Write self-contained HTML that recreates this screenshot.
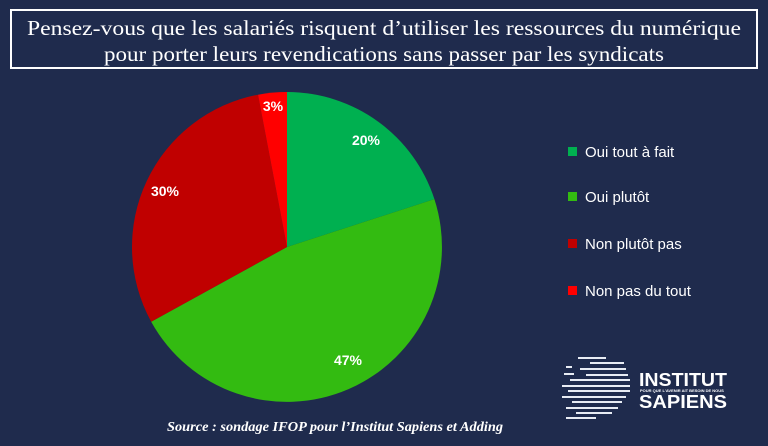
<!DOCTYPE html>
<html><head><meta charset="utf-8"><style>
html,body{margin:0;padding:0;background:#1f2b4d;}
</style></head><body>
<svg width="768" height="441" viewBox="0 0 768 441" xmlns="http://www.w3.org/2000/svg">
<rect width="768" height="441" fill="#1f2b4d"/>
<rect x="11" y="10" width="746" height="58" fill="none" stroke="#fff" stroke-width="2"/>
<g font-family="Liberation Serif, serif" font-size="21" fill="#fff" text-anchor="middle">
<text x="384" y="35" textLength="714" lengthAdjust="spacingAndGlyphs">Pensez-vous que les salariés risquent d’utiliser les ressources du numérique</text>
<text x="384" y="61" textLength="560" lengthAdjust="spacingAndGlyphs">pour porter leurs revendications sans passer par les syndicats</text>
</g>
<path d="M287,247 L287,92 A155,155 0 0 1 434.4,199.1 Z" fill="#00b050"/>
<path d="M287,247 L434.4,199.1 A155,155 0 0 1 151.2,321.7 Z" fill="#33bb11"/>
<path d="M287,247 L151.2,321.7 A155,155 0 0 1 258,94.7 Z" fill="#c00000"/>
<path d="M287,247 L258,94.7 A155,155 0 0 1 287,92 Z" fill="#ff0000"/>
<g font-family="Liberation Sans, sans-serif" font-size="14" font-weight="bold" fill="#fff" text-anchor="middle">
<text x="366" y="145">20%</text>
<text x="348" y="365">47%</text>
<text x="165" y="196">30%</text>
<text x="273" y="111">3%</text>
</g>
<g font-family="Liberation Sans, sans-serif" font-size="15" fill="#fff">
<rect x="568" y="147" width="9" height="9" fill="#00b050"/><text x="585" y="157">Oui tout à fait</text>
<rect x="568" y="192" width="9" height="9" fill="#33bb11"/><text x="585" y="202">Oui plutôt</text>
<rect x="568" y="239" width="9" height="9" fill="#c00000"/><text x="585" y="249">Non plutôt pas</text>
<rect x="568" y="286" width="9" height="9" fill="#ff0000"/><text x="585" y="296">Non pas du tout</text>
</g>
<g fill="#e8ecf4">
<rect x="578" y="357" width="28" height="2"/><rect x="590" y="362" width="34" height="2"/>
<rect x="566" y="366" width="6" height="2"/><rect x="580" y="368" width="46" height="2"/>
<rect x="564" y="373" width="10" height="2"/><rect x="586" y="374" width="42" height="2"/>
<rect x="570" y="379" width="60" height="2"/><rect x="562" y="385" width="68" height="2"/>
<rect x="568" y="390" width="62" height="2"/><rect x="562" y="396" width="64" height="2"/>
<rect x="572" y="401" width="50" height="2"/><rect x="566" y="407" width="52" height="2"/>
<rect x="576" y="412" width="36" height="2"/><rect x="566" y="417" width="30" height="2"/>
</g>
<g font-family="Liberation Sans, sans-serif" fill="#fff" font-weight="bold">
<text x="639" y="386" font-size="18" textLength="88" lengthAdjust="spacingAndGlyphs">INSTITUT</text>
<text x="640" y="392" font-size="4">POUR QUE L'AVENIR AIT BESOIN DE NOUS</text>
<text x="639" y="408" font-size="18" textLength="88" lengthAdjust="spacingAndGlyphs">SAPIENS</text>
</g>
<text x="335" y="431" font-family="Liberation Serif, serif" font-style="italic" font-weight="bold" font-size="14" fill="#fff" text-anchor="middle" textLength="336" lengthAdjust="spacingAndGlyphs">Source : sondage IFOP pour l’Institut Sapiens et Adding</text>
</svg>
</body></html>
